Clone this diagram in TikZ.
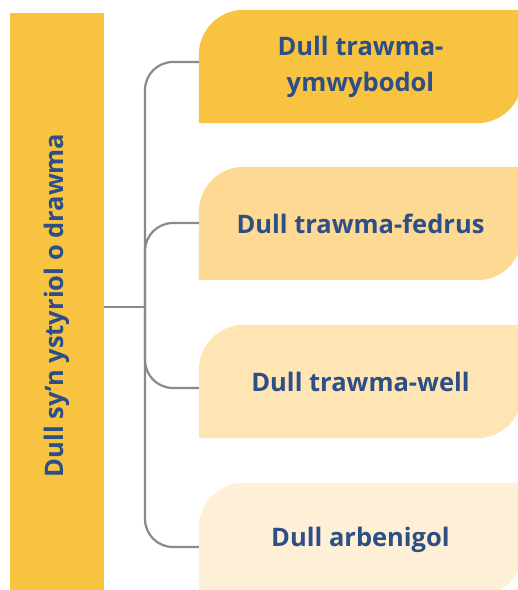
\documentclass[tikz,border=0pt]{standalone}
\usepackage{fontspec}
\setmainfont{Open Sans}
\usetikzlibrary{backgrounds}
\definecolor{cA}{HTML}{F8C340}
\definecolor{cB}{HTML}{FDD993}
\definecolor{cC}{HTML}{FEE5B3}
\definecolor{cD}{HTML}{FEF0D6}
\definecolor{txt}{HTML}{2D4F86}
\definecolor{lin}{HTML}{8A8A8A}
\tikzset{
  boxnode/.style={minimum width=323pt, minimum height=113pt, inner sep=0pt,
    text=txt, font=\bfseries\fontsize{25.5}{36}\selectfont, align=center},
  barnode/.style={fill=cA, rotate=90, minimum width=577pt, minimum height=94pt,
    inner sep=0pt, text=txt, font=\bfseries\fontsize{25.5}{30}\selectfont},
  conn/.style={draw=lin, line width=2.2pt}
}
\newcommand{\leafshape}[2]{%
  \fill[#2] (#1.south west) [rounded corners=45pt] -- (#1.north west) [sharp corners] -- (#1.north east) [rounded corners=45pt] -- (#1.south east) [sharp corners] -- cycle;}
\begin{document}
\begin{tikzpicture}[x=1pt,y=-1pt]
\useasboundingbox (0,0) rectangle (518,590);
\clip (0,0) rectangle (518,590);
\node[barnode] (bar) at (57,301.5) {Dull sy’n ystyriol o drawma\hspace*{8pt}};
\node[boxnode] (b1) at (360.5,66.5) {Dull trawma-\\ymwybodol};
\node[boxnode] (b2) at (360.5,223.5) {Dull trawma-fedrus};
\node[boxnode] (b3) at (360.5,381.5) {Dull trawma-well};
\node[boxnode] (b4) at (360.5,539.5) {Dull arbenigol};
\begin{pgfonlayer}{background}
\leafshape{b1}{cA}
\leafshape{b2}{cB}
\leafshape{b3}{cC}
\leafshape{b4}{cD}
\end{pgfonlayer}
\coordinate (hub) at (145,307);
\draw[conn] (bar.south |- hub) -- (hub);
\draw[conn, rounded corners=28pt] (hub) |- (b1.west |- 0,62);
\draw[conn, rounded corners=28pt] (hub) |- (b2.west |- 0,223);
\draw[conn, rounded corners=28pt] (hub) |- (b3.west |- 0,388);
\draw[conn, rounded corners=28pt] (hub) |- (b4.west |- 0,547);
\end{tikzpicture}
\end{document}
